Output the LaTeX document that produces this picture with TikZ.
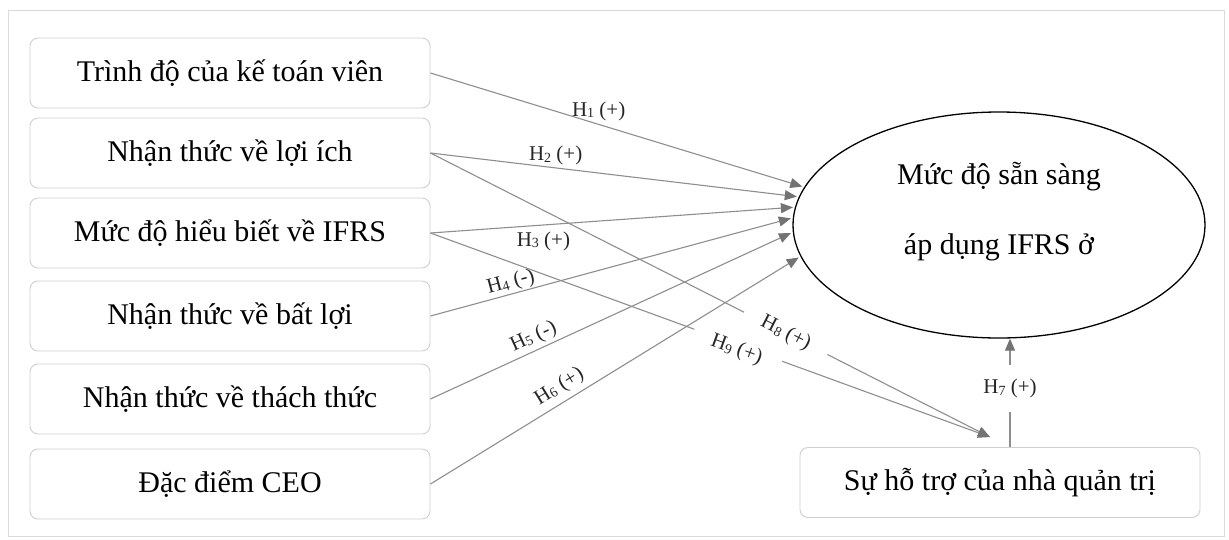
\documentclass[tikz,border=0pt]{standalone}
\usepackage{fontspec}
\setmainfont{Liberation Serif}
\usetikzlibrary{arrows.meta,shapes.geometric}
\definecolor{framecol}{HTML}{DADADA}
\definecolor{boxcol}{HTML}{CFCFCF}
\definecolor{conncol}{HTML}{8E8E8E}
\definecolor{tipcol}{HTML}{737373}
\newcommand{\hyp}[2]{H\raisebox{-1.5pt}{\fontsize{14}{14}\selectfont #1}\ #2}
\begin{document}
\begin{tikzpicture}[x=1pt,y=-1pt,
  box/.style={draw=boxcol, line width=0.9pt, rounded corners=8pt,
    minimum width=400pt, minimum height=70pt, inner sep=0pt,
    font=\fontsize{30}{36}\selectfont},
  conn/.style={draw=conncol, line width=1.1pt,
    -{Triangle[length=12pt,width=10pt,color=tipcol]}},
  lab/.style={font=\fontsize{21}{23}\selectfont, inner sep=1pt, text=black!85},
  gaplab/.style={lab, fill=white, inner xsep=20pt, inner ysep=3pt}
]
\useasboundingbox (0,0) rectangle (1229,539);
\fill[white] (0,0) rectangle (1229,539);
\draw[framecol, line width=0.8pt] (8,10) rectangle (1224,536);

\node[box] (b1) at (230,73) {Trình độ của kế toán viên};
\node[box] (b2) at (230,153) {Nhận thức về lợi ích};
\node[box] (b3) at (230,233) {Mức độ hiểu biết về IFRS};
\node[box] (b4) at (230,316) {Nhận thức về bất lợi};
\node[box] (b5) at (230,399) {Nhận thức về thách thức};
\node[box] (b6) at (230,484) {Đặc điểm CEO};
\node[box] (m) at (1000,482.5) {Sự hỗ trợ của nhà quản trị};

\node[draw, ellipse, line width=1.3pt, minimum width=412pt, minimum height=226pt, inner sep=0pt] (y) at (999,225) {};
\node[font=\fontsize{30}{36}\selectfont, align=center, inner sep=0pt] (yt) at (999,212)
  {Mức độ sẵn sàng\\[34pt]áp dụng IFRS ở};

% paths to the support node (drawn first, labels break them)
\draw[conn] (b2.east) -- ([xshift=-10pt,yshift=10pt]m.north)
  node[gaplab, sloped, pos=0.635] {\hyp{8}{(+)}};
\draw[conn] (b3.east) -- ([xshift=-10pt,yshift=10pt]m.north)
  node[gaplab, sloped, pos=0.55, yshift=-5pt] {\hyp{9}{(+)}};

% paths to the outcome
\draw[conn, shorten >=2pt] (b1.east) -- (y.169.6)
  node[lab, pos=0.45, above=2pt] {\hyp{1}{(+)}};
\draw[conn, shorten >=2pt] (b2.east) -- (y.172.6)
  node[lab, pos=0.34, above=1pt] {\hyp{2}{(+)}};
\draw[conn, shorten >=2pt] (b3.east) -- (y.175.3)
  node[lab, pos=0.31, below=5pt] {\hyp{3}{(+)}};
\draw[conn, shorten >=2pt] (b4.east) -- (y.178.6)
  node[lab, sloped, pos=0.23, above=0pt] {\hyp{4}{(-)}};
\draw[conn, shorten >=2pt] (b5.east) -- (y.182.7)
  node[lab, sloped, pos=0.30, above=2pt] {\hyp{5}{(-)}};
\draw[conn, shorten >=2pt] (b6.east) -- (y.189)
  node[lab, sloped, pos=0.37, above=4pt] {\hyp{6}{(+)}};

\draw[conn] ([xshift=10pt]m.north) -- ([xshift=11pt]y.south)
  node[lab, fill=white, pos=0.54, inner ysep=14pt, inner xsep=2pt] {\hyp{7}{(+)}};
\end{tikzpicture}
\end{document}
